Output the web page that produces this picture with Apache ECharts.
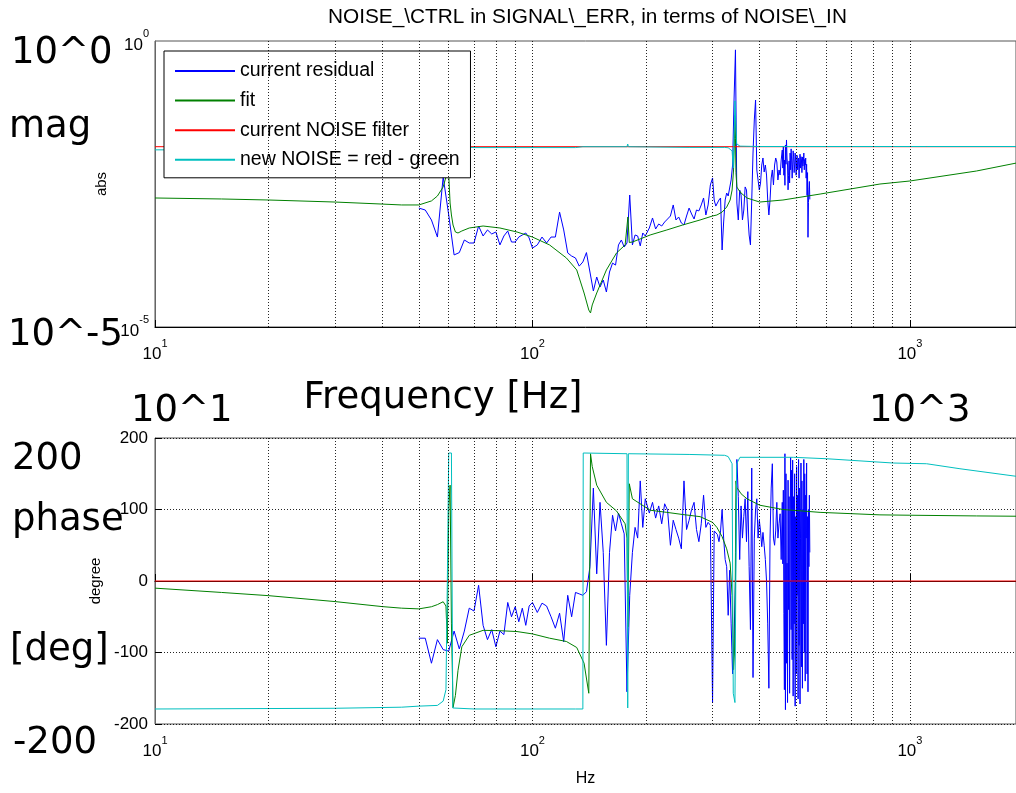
<!DOCTYPE html>
<html>
<head>
<meta charset="utf-8">
<script src="https://cdn.jsdelivr.net/npm/echarts@6/dist/echarts.min.js"></script>
<style>
html,body{margin:0;padding:0;background:#fff;}
#c{width:1016px;height:793px;}
</style>
</head>
<body>
<div id="c"></div>
<script>
// ---------------- data ----------------
const seriesNames = ['current residual', 'fit', 'current NOISE filter', 'new NOISE = red - green'];

// measured residual (blue)
const residualFreq = [
  50,52,54,56,58,60,62,64,66,68,70,72,74,76,78,80,82,84,86,88,90,92,94,96,98,100,
  103,106,109,112,115,118,121,124,127,130,133,136,139,142,145,148,151,154,157,160,163,166,169,172,175,178,181,184,187,190,193,196,199,
  204,208,212,216,220,224,228,232,236,240,244,248,252,256,260,264,268,272,276,280,284,288,292,296,300,
  303,306,309,312,315,318,321,324,327,330,333,336,339,342,345,
  348,351,354,357,360,363,366,369,372,375,378,381,384,387,390,
  393,396,399,402,405,408,411,414,417,420,423,426,429,432,435,
  438,441,444,447,450,453,456,
  459,460.5,462,463.5,465,466.5,468,469.5,471,472.5,
  474,475.5,477,478.5,480,481.5,483,484.5,486,487.5,
  489,490.5,492,493.5,495,496.5,498,499.5,501,502.5,
  504,505.5,507,508.5,510,511.5,513,514.5,516,517.5,
  519,520.5,522,523.5,525,526.5,528,529.5,531,532.5,
  534,535.5,537,538.5,540,541.5,543
];
const residualMag = [
  1.20e-3,1.11e-3,7.43e-4,3.74e-4,4.19e-3,9.08e-4,1.82e-4,2.0e-4,3.32e-4,2.94e-4,2.94e-4,5.83e-4,3.90e-4,4.97e-4,4.23e-4,4.58e-4,2.72e-4,3.90e-4,4.77e-4,3.06e-4,3.06e-4,3.74e-4,4.06e-4,4.40e-4,3.60e-4,2.40e-4,
  2.72e-4,3.74e-4,2.94e-4,3.74e-4,3.74e-4,1.02e-3,4.97e-4,1.97e-4,1.74e-4,1.61e-4,1.16e-4,1.37e-4,2.0e-4,9.15e-5,4.26e-5,7.48e-5,5.0e-5,6.63e-5,4.09e-5,9.15e-5,1.31e-4,1.21e-4,2.72e-4,3.32e-4,2.50e-4,2.94e-4,2.03e-3,2.72e-4,4.06e-4,3.90e-4,2.61e-4,4.40e-4,3.90e-4,
  5.38e-4,8.05e-4,5.17e-4,6.32e-4,5.83e-4,6.85e-4,7.73e-4,8.72e-4,1.36e-3,7.43e-4,8.38e-4,6.58e-4,6.07e-4,8.72e-4,1.20e-3,9.45e-4,7.73e-4,1.11e-3,1.07e-3,1.36e-3,1.80e-3,9.08e-4,1.36e-3,3.04e-3,4.03e-3,
  1.66e-3,1.30e-3,1.36e-3,1.66e-3,1.80e-3,2.22e-4,6.85e-4,1.66e-3,2.20e-3,1.95e-3,1.88e-3,3.72e-3,6.79e-3,0.093,0.70,
  1.47e-3,7.43e-4,2.48e-3,2.03e-3,7.43e-4,1.11e-3,2.81e-3,2.48e-3,9.08e-4,4.06e-4,2.72e-4,1.66e-3,0.0110,0.0416,0.093,
  5.56e-3,3.72e-3,2.48e-3,3.29e-3,6.79e-3,9.01e-3,5.13e-3,6.79e-3,4.54e-3,1.66e-3,9.08e-4,1.66e-3,4.03e-3,5.56e-3,3.04e-3,
  6.79e-3,9.01e-3,7.67e-3,3.72e-3,5.56e-3,4.54e-3,8.32e-3,
  0.0124,6.0e-3,0.0140,4.5e-3,8.3e-3,3.0e-3,0.0152,7.0e-3,0.0186,9.0e-3,
  6.8e-3,2.5e-3,4.5e-3,8.0e-3,3.3e-3,1.1e-2,5.6e-3,1.3e-2,8.3e-3,4.0e-3,
  6.8e-3,1.2e-2,9.4e-3,5.0e-3,6.8e-3,1.1e-2,8.3e-3,4.5e-3,7.4e-3,1.0e-2,
  5.6e-3,8.0e-3,9.0e-3,4.0e-3,6.8e-3,1.05e-2,6.0e-3,9.5e-3,8.3e-3,5.0e-3,
  9.4e-3,6.5e-3,7.7e-3,1.1e-2,5.6e-3,8.5e-3,6.8e-3,9.0e-3,4.0e-3,7.0e-3,
  2.0e-3,5.0e-3,3.7e-4,1.5e-3,2.5e-3,3.5e-3,1.7e-3
];
const residualPhase = [
  -80,-80,-115,-82,-96,-98,-70,-95,-70,-38,-42,-6,-62,-82,-68,-92,-70,-75,-30,-50,-36,-57,-38,-62,-35,-30,
  -44,-31,-35,-50,-66,-45,-85,-20,-50,-16,-18,-20,-15,20,130,10,110,40,-90,40,92,70,95,80,66,-155,-20,40,75,60,140,75,115,
  95,110,88,105,80,108,99,50,85,72,60,45,140,72,85,100,110,72,55,80,120,75,82,78,-170,
  70,72,65,55,70,100,60,30,20,-48,15,-60,-130,-80,0,
  170,118,30,105,60,90,115,55,125,20,-68,158,-135,60,100,
  115,60,85,70,48,68,50,30,0,-60,-150,60,130,164,60,
  50,70,110,60,80,94,30,
  110,24,127,-45,-152,178,-180,150,-115,25,
  -170,141,-40,118,-157,71,173,-68,155,-110,
  169,-161,118,-60,150,-175,90,-130,160,-20,
  120,-165,170,-90,130,-172,60,165,-120,140,
  -150,100,-60,170,-100,150,-140,120,60,165,
  -130,90,-155,100,20,120,40
];

// fit (green)
const fitFreq = [10,15,20,30,40,45,50,54,56,58,
  59,59.5,60,60.5,61,61.6,62.5,63.5,65,68,
  74,82,91,100,111,123,131,137,141,142.5,
  144,148,157,167,176,178,179,180.5,184,205,
  227,250,278,300,308,318,327,334,338,341,
  343,344,345,346,348,352,357,370,400,461,
  578,833,1000,1500,2000];
const fitMag = [1.80e-3,1.73e-3,1.66e-3,1.53e-3,1.41e-3,1.36e-3,1.36e-3,1.60e-3,1.95e-3,2.81e-3,
  4.19e-3,7.36e-3,4.54e-3,1.47e-3,9.08e-4,6.07e-4,4.58e-4,4.40e-4,4.77e-4,5.38e-4,
  5.83e-4,5.38e-4,4.58e-4,3.74e-4,2.72e-4,1.61e-4,9.93e-5,3.93e-5,1.98e-5,1.76e-5,
  2.43e-5,3.93e-5,9.93e-5,1.97e-4,2.72e-4,2.94e-4,8.38e-4,3.0e-4,3.06e-4,4.06e-4,
  4.97e-4,6.07e-4,7.43e-4,8.72e-4,9.08e-4,1.02e-3,1.25e-3,1.66e-3,2.48e-3,5.56e-3,
  0.02,0.05,0.02,5.0e-3,2.8e-3,2.48e-3,2.2e-3,1.80e-3,1.53e-3,1.66e-3,
  2.11e-3,3.16e-3,3.57e-3,5.33e-3,7.79e-3];
const fitPhase = [-10,-16,-20.5,-28.8,-35.8,-38,-39,-36,-33,-29,
  -35,-87,100,134,-60,-177,-160,-125,-92,-76,
  -69,-69.5,-70.7,-74,-80,-84.6,-93,-115,-157,178,
  160,134,110,98,80,60,-64,136,115,99,
  96,93,90,82,75,62,45,25,-20,-124,
  -100,-60,40,140,130,127,122,115,106,100,
  96,92.5,92,91,90.5];

// current filter (red)
const filterFreq = [10, 2000];
const filterMag = [0.0142, 0.0142];
const filterPhase = [0, 0];

// new filter (cyan)
const newFreq = [10,30,45,50,56,58,59,59.5,60,61,61.5,62,70,130,136,136.3,178,178.8,179.5,260,323,330,338,340.4,343.9,347.5,354.6,400,491,602,903,1107,1357,1909,2000];
const newMag = [0.0125,0.0126,0.0126,0.0125,0.0123,0.0118,0.011,0.008,0.012,0.0145,0.0145,0.0142,0.0137,0.0137,0.0142,0.0142,0.0142,0.0158,0.0142,0.0138,0.0138,0.0136,0.012,0.006,0.09,0.016,0.0145,0.0143,0.0143,0.0143,0.0143,0.0143,0.0143,0.0143,0.0143];
const newPhase = [-179,-178,-176.5,-175,-174,-168,-152,1,179,179,-177.6,-179,-179,-179,-179,179,178,-177.6,178,177,175.8,174,164,-157,-170,164,173,173,173,171,165,164,157,146.5,145.5];

// dotted grid frequencies and axis ranges
const gridFreqs = [20,30,40,50,60,70,80,90,100,200,300,400,500,600,700,800,900,1000];
const xRange = [10, 1910];
const magRange = [1e-5, 1];
const magTickPowers = [0, -5];
const phaseRange = [-200, 200];
const phaseStep = 100;

// overlay annotations
const overlayTexts = [
  {t:'10^0', x:11, y:53},
  {t:'mag', x:9, y:127},
  {t:'10^-5', x:8, y:335},
  {t:'Frequency [Hz]', x:303.5, y:398},
  {t:'10^1', x:131, y:411},
  {t:'10^3', x:869, y:411},
  {t:'200', x:12, y:459},
  {t:'phase', x:12, y:520},
  {t:'[deg]', x:10, y:650},
  {t:'-200', x:13, y:743}
];

// ---------------- chart ----------------
const FONT = '"Liberation Sans", Arial, Helvetica, sans-serif';
const chart = echarts.init(document.getElementById('c'), null, {renderer:'canvas'});
function pairs(xs, ys){ return xs.map((x,i)=>[x, ys[i]]); }
const rich = {
  b: {fontSize: 17, fontFamily: FONT, color:'#000', verticalAlign:'bottom'},
  s: {fontSize: 11, fontFamily: FONT, color:'#000', verticalAlign:'top', padding:[0,0,14,0]}
};
function powLabel(v){
  const l = Math.log10(v); const e = Math.round(l);
  if (Math.abs(l - e) > 1e-6) return '';
  return '{b|10}{s|' + e + '}';
}
const colors = ['#0000ff', '#008000', '#ff0000', '#00bfbf'];
const dataSets = [
  [residualFreq, residualMag, residualPhase],
  [fitFreq, fitMag, fitPhase],
  [filterFreq, filterMag, filterPhase],
  [newFreq, newMag, newPhase]
];
const gridMark = {
  silent: true, symbol: ['none','none'], label:{show:false},
  lineStyle: {type:[1,2], color:'#000', width:1, opacity:0.85},
  emphasis:{disabled:true},
  data: gridFreqs.map(f => ({xAxis: f}))
};
const series = [];
[0,1].forEach(p => {
  series.push({
    name:'grid'+p, type:'line', xAxisIndex:p, yAxisIndex:p,
    data: pairs(filterFreq, p===0 ? filterMag : filterPhase),
    symbol:'none', lineStyle:{opacity:0}, silent:true, z:1,
    markLine: gridMark
  });
});
[0,1].forEach(p => {
  dataSets.forEach((d,i) => {
    series.push({
      name: seriesNames[i], type:'line', xAxisIndex:p, yAxisIndex:p,
      data: pairs(d[0], p===0 ? d[1] : d[2]),
      symbol:'none', showSymbol:false, color: colors[i],
      lineStyle:{width:1, color: colors[i]}, z: 2 + i * 0.1,
      emphasis:{disabled:true}
    });
  });
});

const xAxisBase = (gi) => ({
  type:'log', logBase:10, gridIndex:gi, min:xRange[0], max:xRange[1],
  axisLine:{show:true, lineStyle:{color:'#000', width:1}},
  axisTick:{show:true, inside:true, length:7, lineStyle:{color:'#000'}},
  axisLabel:{formatter: powLabel, rich: rich, margin: 11, showMaxLabel:false},
  splitLine:{show:false}
});

const option = {
  animation:false,
  backgroundColor:'#fff',
  title:{
    text:'NOISE_\\CTRL in SIGNAL\\_ERR, in terms of NOISE\\_IN',
    left: 323, top: 2,
    textStyle:{fontFamily:FONT, fontSize:20.8, fontWeight:'normal', color:'#000'}
  },
  legend:{
    data: seriesNames, orient:'vertical', left:164, top:51,
    padding:[10,11,8,11], itemGap:9.6, itemWidth:60, itemHeight:2, icon:'rect',
    backgroundColor:'#fff', borderColor:'#000', borderWidth:1,
    selectedMode:false,
    textStyle:{fontFamily:FONT, fontSize:19.5, color:'#000', lineHeight:20}
  },
  grid:[
    {left:155, top:41, width:861, height:286, show:true, borderColor:'#555', borderWidth:1, outerBoundsMode:'none'},
    {left:155, top:438, width:861, height:286, show:true, borderColor:'#555', borderWidth:1, outerBoundsMode:'none'}
  ],
  xAxis:[
    xAxisBase(0),
    Object.assign(xAxisBase(1), {name:'Hz', nameLocation:'middle', nameGap:47,
      nameTextStyle:{fontFamily:FONT, fontSize:16, color:'#000'}})
  ],
  yAxis:[
    {type:'log', logBase:10, gridIndex:0, min:magRange[0], max:magRange[1],
     axisLine:{show:true, lineStyle:{color:'#666'}}, axisTick:{show:false},
     axisLabel:{formatter: v => {
        const e = Math.round(Math.log10(v));
        return (magTickPowers.indexOf(e) >= 0 && Math.abs(Math.log10(v)-e) < 1e-6) ? '{b|10}{s|' + e + '}' : '';
     }, rich: rich, margin: 6},
     splitLine:{show:false},
     name:'abs', nameLocation:'middle', nameGap:45,
     nameTextStyle:{fontFamily:FONT, fontSize:15, color:'#000'}},
    {type:'value', gridIndex:1, min:phaseRange[0], max:phaseRange[1], interval:phaseStep,
     axisLine:{show:true, lineStyle:{color:'#666'}},
     axisTick:{show:true, inside:true, length:7, lineStyle:{color:'#000'}},
     axisLabel:{fontFamily:FONT, fontSize:17, color:'#000', margin:7},
     splitLine:{show:true, lineStyle:{type:[1,2], color:'#000', opacity:0.85}},
     name:'degree', nameLocation:'middle', nameGap:52,
     nameTextStyle:{fontFamily:FONT, fontSize:15, color:'#000'}}
  ],
  series: series,
  graphic: overlayTexts.map(o => ({
    type:'text', x:o.x, y:o.y, z:100, silent:true,
    style:{text:o.t, font:'37px "DejaVu Sans"', fill:'#000', verticalAlign:'middle', align:'left'}
  }))
};
chart.setOption(option);
</script>
</body>
</html>
